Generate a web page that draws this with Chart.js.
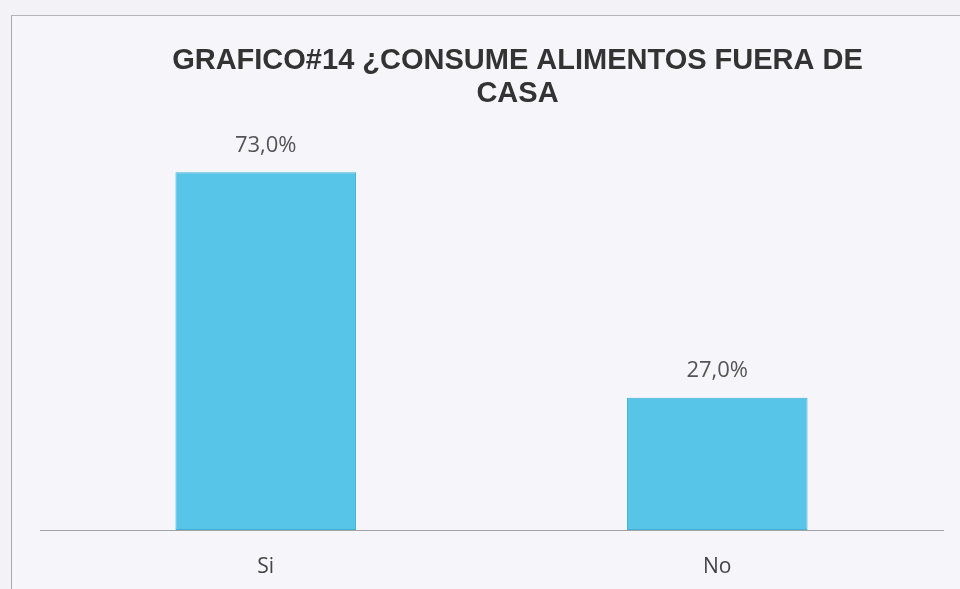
<!DOCTYPE html>
<html>
<head>
<meta charset="utf-8">
<title>GRAFICO#14</title>
<script src="https://cdn.jsdelivr.net/npm/chart.js@4"></script>
<style>
  html, body { margin: 0; padding: 0; }
  body { width: 960px; height: 589px; overflow: hidden; background: #f3f2f7; position: relative; }
  #box {
    position: absolute; left: 11px; top: 15px; width: 1011px; height: 574px;
    background: #f6f5f9; border-left: 1px solid #a9a9ad; border-top: 1px solid #b5b5b9;
  }
  #chart { display: block; }
</style>
</head>
<body>
<div id="box"><canvas id="chart" width="1011" height="573"></canvas></div>
<script>
const categories = ['Si', 'No']
const percentages = [73.0, 27.0]
const titleLines = ['GRAFICO#14 ¿CONSUME ALIMENTOS FUERA DE', 'CASA']

// title centred on the whole chart box, not just the plot area
const chartTitle = {
    id: 'chartTitle',
    afterDraw(chart) {
        const ctx = chart.ctx
        ctx.save()
        ctx.font = 'bold 29px "Liberation Sans", Arial, sans-serif'
        ctx.fillStyle = '#333333'
        ctx.textAlign = 'center'
        ctx.textBaseline = 'middle'
        titleLines.forEach((line, i) => {
            ctx.fillText(line, chart.width / 2, 45 + i * 33)
        })
        ctx.restore()
    }
}

// value labels above each bar, e.g. 73,0%
const barLabels = {
    id: 'barLabels',
    afterDatasetsDraw(chart) {
        const ctx = chart.ctx
        const meta = chart.getDatasetMeta(0)
        ctx.save()
        ctx.font = '22px "Open Sans"'
        ctx.fillStyle = '#555555'
        ctx.textAlign = 'center'
        ctx.textBaseline = 'middle'
        meta.data.forEach((bar, i) => {
            const text = percentages[i].toFixed(1).replace('.', ',') + '%'
            ctx.fillText(text, bar.x, bar.y - 27)
        })
        ctx.restore()
    }
}

const ctx = document.getElementById('chart').getContext('2d')
new Chart(ctx, {
    type: 'bar',
    data: {
        labels: categories,
        datasets: [{
            data: percentages,
            backgroundColor: '#56c5e8',
            borderColor: '#40b0d8',
            borderWidth: 1,
            borderSkipped: false,
            categoryPercentage: 1,
            barPercentage: 0.4
        }]
    },
    options: {
        responsive: false,
        animation: false,
        layout: { padding: { left: 28, right: 80, top: 122, bottom: 0 } },
        plugins: {
            legend: { display: false },
            tooltip: { enabled: false },
            title: { display: false }
        },
        scales: {
            x: {
                grid: { display: false },
                border: { display: true, color: '#a3a3a6', width: 1 },
                ticks: { color: '#444444', padding: 16, font: { family: '"Open Sans"', size: 21 } },
                afterFit: (scale) => { scale.height = 59 }
            },
            y: {
                display: false,
                min: 0,
                max: 80
            }
        }
    },
    plugins: [chartTitle, barLabels]
})
</script>
</body>
</html>
